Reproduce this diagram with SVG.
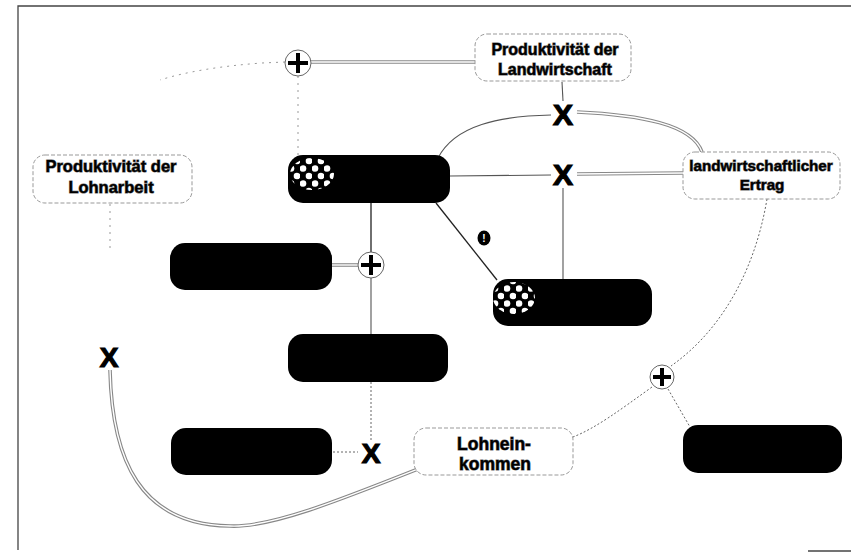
<svg xmlns="http://www.w3.org/2000/svg" width="851" height="553" viewBox="0 0 851 553">
<style>
.frame{fill:none;stroke:#444;stroke-width:1.3}
.blk{fill:#000}
.lt{fill:#fff;stroke:#999;stroke-width:1;stroke-dasharray:4 2}
.t{font-family:"Liberation Sans",Arial,sans-serif;font-weight:bold;fill:#000;text-anchor:middle;stroke:#666;stroke-width:1;paint-order:stroke}
.x{font-family:"Liberation Sans",Arial,sans-serif;font-weight:bold;fill:#000;text-anchor:middle;stroke:#000;stroke-width:1.2}
.dblo{fill:none;stroke:#888;stroke-width:3.6}
.dbli{fill:none;stroke:#fff;stroke-width:1.4}
.sol{fill:none;stroke:#555;stroke-width:1.1}
.dark{fill:none;stroke:#222;stroke-width:1.3}
.dot{fill:none;stroke:#666;stroke-width:1;stroke-dasharray:2 2}
.faint{fill:none;stroke:#999;stroke-width:1;stroke-dasharray:2 5}
.pc{fill:#fff;stroke:#666;stroke-width:1}
.pl{stroke:#000;stroke-width:4}
</style>
<defs>
<pattern id="dots" width="12" height="15" patternUnits="userSpaceOnUse">
<circle cx="3" cy="3.5" r="3.3" fill="#fff"/>
<circle cx="9" cy="11" r="3.3" fill="#fff"/>
</pattern>
<path id="c1" d="M475,62 L311,62"/>
<path id="c2" d="M577,112 C640,115 692,124 702,152"/>
<path id="c3" d="M577,174 L683,173"/>
<path id="c4" d="M331,265 L358,265"/>
<path id="c5" d="M418,469 C340,500 270,528 230,526 C140,525 112,460 110,370"/>
</defs>
<rect width="851" height="553" fill="#fff"/>
<g id="frame">
<path class="frame" d="M18,550 L18,6 L851,6"/>
<path class="frame" d="M808,551 L851,551"/>
</g>
<g id="connectors">
<use href="#c1" class="dblo"/><use href="#c1" class="dbli"/>
<use href="#c2" class="dblo"/><use href="#c2" class="dbli"/>
<use href="#c3" class="dblo"/><use href="#c3" class="dbli"/>
<use href="#c4" class="dblo"/><use href="#c4" class="dbli"/>
<use href="#c5" class="dblo"/><use href="#c5" class="dbli"/>
<path class="faint" d="M285,62 L262,63 C220,66 185,72 160,80"/>
<path class="faint" d="M298,76 L298,155"/>
<path class="faint" d="M110,204 L110,250"/>
<path class="sol" d="M438,158 C455,125 500,116 551,115"/>
<path class="sol" d="M450,176 L551,175"/>
<path class="sol" d="M562,82 L563,101"/>
<path class="sol" d="M563,188 L563,279"/>
<path class="dark" d="M436,203 L497,280"/>
<path class="dark" d="M371,203 L371,252"/>
<path class="sol" d="M371,278 L371,334"/>
<path class="dot" d="M371,382 L371,440"/>
<path class="dot" d="M333,452 L358,452"/>
<path class="dot" d="M767,199 C755,270 722,330 671,366"/>
<path class="dot" d="M652,387 C620,410 596,428 573,437"/>
<path class="dot" d="M668,389 L690,427"/>
</g>
<g id="n-prod-landwirtschaft">
<rect class="lt" x="475" y="34" width="156" height="47" rx="12"/>
<text class="t" x="555" y="55" font-size="16">Produktivität der</text>
<text class="t" x="555" y="75" font-size="16">Landwirtschaft</text>
</g>
<g id="n-prod-lohnarbeit">
<rect class="lt" x="33" y="155" width="159" height="48" rx="12"/>
<text class="t" x="111" y="172" font-size="16.5">Produktivität der</text>
<text class="t" x="111" y="193" font-size="16.5">Lohnarbeit</text>
</g>
<g id="n-ertrag">
<rect class="lt" x="683" y="152" width="157" height="47" rx="12"/>
<text class="t" x="761" y="171" font-size="15.2">landwirtschaftlicher</text>
<text class="t" x="762" y="190" font-size="15.2">Ertrag</text>
</g>
<g id="n-lohneinkommen">
<rect class="lt" x="414" y="428" width="159" height="47" rx="12"/>
<text class="t" x="494" y="450" font-size="17.5">Lohnein-</text>
<text class="t" x="495" y="470" font-size="17.5">kommen</text>
</g>
<g id="n-a">
<rect class="blk" x="288" y="155" width="162" height="48" rx="15"/>
<ellipse cx="312" cy="174" rx="22" ry="16" fill="url(#dots)"/>
</g>
<g id="n-b"><rect class="blk" x="170" y="243" width="162" height="47" rx="15"/></g>
<g id="n-c"><rect class="blk" x="288" y="334" width="160" height="48" rx="15"/></g>
<g id="n-d"><rect class="blk" x="171" y="428" width="161" height="47" rx="15"/></g>
<g id="n-e">
<rect class="blk" x="493" y="279" width="159" height="47" rx="15"/>
<ellipse cx="514" cy="298" rx="21" ry="16" fill="url(#dots)"/>
</g>
<g id="n-f"><rect class="blk" x="683" y="425" width="159" height="48" rx="15"/></g>
<g id="op-plus1"><circle class="pc" cx="298" cy="63" r="13"/><path class="pl" d="M288,63 H308 M298,53 V73"/></g>
<g id="op-plus2"><circle class="pc" cx="371" cy="265" r="13"/><path class="pl" d="M361,265 H381 M371,255 V275"/></g>
<g id="op-plus3"><circle class="pc" cx="662" cy="377" r="12"/><path class="pl" d="M653,377 H671 M662,368 V386"/></g>
<g id="op-x1"><text class="x" x="563" y="125" font-size="30">X</text></g>
<g id="op-x2"><text class="x" x="563" y="185" font-size="30">X</text></g>
<g id="op-x3"><text class="x" x="109" y="367" font-size="28">X</text></g>
<g id="op-x4"><text class="x" x="371" y="463" font-size="28">X</text></g>
<g id="icon-excl">
<ellipse cx="484" cy="238" rx="6.5" ry="7.5" fill="#000"/>
<text x="484" y="242" font-size="10" font-weight="bold" font-family="Liberation Sans,Arial,sans-serif" fill="#fff" text-anchor="middle">!</text>
</g>
</svg>
